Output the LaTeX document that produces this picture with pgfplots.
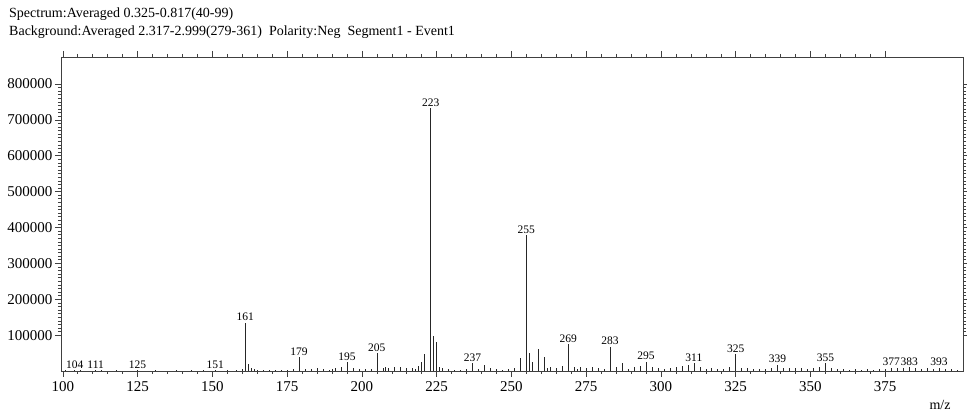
\documentclass[border=0pt]{standalone}
\usepackage{fontspec}
\setmainfont{Liberation Serif}
\usepackage{pgfplots}
\usepackage{pgfplotstable}
\pgfplotsset{compat=1.18}

% m/z, intensity
\pgfplotstableread{
mz int
101 2000
104 3000
106 1500
111 3000
113 1500
118 1500
125 3000
131 1500
138 1500
143 1500
147 2000
151 3000
155 2500
158 3000
160 5000
161 134000
162 19000
163 9000
164 5000
165 3000
167 4000
169 3000
171 3000
173 4000
175 3000
177 5000
179 39000
181 5000
183 6000
185 8000
187 5000
189 4000
190 6000
191 8000
193 10000
195 25000
197 8000
199 6000
201 5000
203 6000
205 50000
207 9000
208 10000
209 8000
211 12000
213 10000
215 8000
217 9000
218 5000
219 14000
220 25000
221 47000
223 733000
224 98000
225 81000
226 10000
227 8000
229 5000
231 4000
233 3000
235 5000
237 22000
239 6000
241 17000
243 8000
245 5000
247 4000
249 5000
251 7000
253 36000
255 379000
256 51000
257 26000
259 61000
261 39000
262 8000
263 10000
265 9000
267 14000
269 75000
271 12000
272 6000
273 10000
275 8000
277 10000
279 9000
281 6000
283 68000
285 10000
287 22000
289 6000
291 10000
293 14000
295 26000
297 10000
299 8000
301 6000
303 8000
305 10000
307 14000
309 16000
311 22000
313 12000
315 6000
317 8000
319 5000
321 6000
323 12000
325 47000
327 9000
329 7000
331 5000
333 6000
335 5000
337 8000
339 17000
341 8000
343 9000
345 7000
347 8000
349 6000
351 9000
353 10000
355 22000
357 9000
359 6000
361 5000
363 4000
365 5000
367 4000
369 5000
371 4000
373 5000
375 6000
377 9000
379 7000
381 8000
383 10000
385 7000
387 6000
389 8000
391 6000
393 9000
395 5000
397 6000
399 4000
}\spectrum

% labelled peaks
\pgfplotstableread{
mz int
104 3000
111 3000
125 3000
151 3000
161 134000
179 39000
195 25000
205 50000
223 733000
237 22000
255 379000
269 75000
283 68000
295 26000
311 22000
325 47000
339 17000
355 22000
377 9000
383 10000
393 9000
}\peaks

\begin{document}
\begin{tikzpicture}[x=1pt,y=1pt]
\path[use as bounding box] (0,0) rectangle (967,417);
\node[anchor=west, font=\fontsize{14}{15}\selectfont, inner sep=0pt] at (9,403) {Spectrum:Averaged 0.325-0.817(40-99)};
\node[anchor=west, font=\fontsize{14}{15}\selectfont, inner sep=0pt] at (9,385) {Background:Averaged 2.317-2.999(279-361)\ \ Polarity:Neg\ \ Segment1 - Event1};
\node[font=\fontsize{14}{15}\selectfont, inner sep=0pt] at (940,12) {m/z};
\begin{axis}[
at={(61pt,46pt)}, anchor=south west,
scale only axis,
width=902pt, height=314pt,
xmin=99.4, xmax=401,
ymin=0, ymax=875000,
xtick={100,125,...,375},
minor x tick num=4,
ytick={100000,200000,...,800000},
minor y tick num=9,
tick align=outside,
major tick length=6pt,
minor tick length=3pt,
axis line style={black!75, line width=0.5pt},
every tick/.style={black!75, line width=0.5pt},
scaled y ticks=false,
/pgf/number format/.cd, fixed, precision=0, 1000 sep={}, assume math mode=true,
/pgfplots/.cd,
tick label style={font=\fontsize{15}{16}\selectfont},
xticklabel style={yshift=-1pt},
yticklabel style={xshift=1pt},
clip=false,
]
\addplot[ycomb, black!85, line width=0.6pt, mark=none] table[x=mz, y=int] {\spectrum};
\addplot[ycomb, black!85, line width=0.6pt, mark=none,
  point meta=x,
  nodes near coords={\pgfmathprintnumber[fixed, precision=0, 1000 sep={}]{\pgfplotspointmeta}},
  every node near coord/.style={font=\fontsize{11.5}{12}\selectfont, anchor=south, inner sep=1.5pt, black},
] table[x=mz, y=int] {\peaks};
\end{axis}
\end{tikzpicture}
\end{document}
